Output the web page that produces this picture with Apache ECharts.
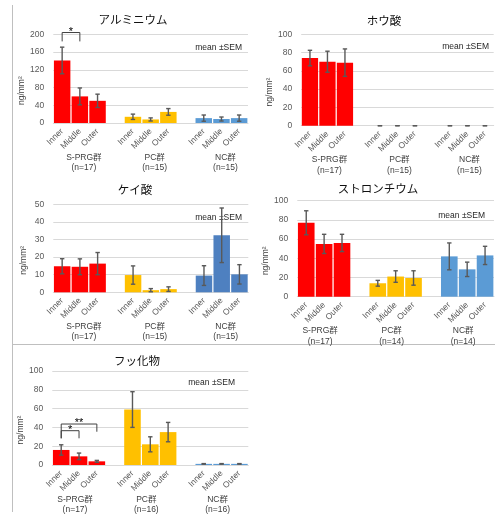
<!DOCTYPE html>
<html>
<head>
<meta charset="utf-8">
<script src="https://cdn.jsdelivr.net/npm/echarts@6/dist/echarts.min.js"></script>
<style>
  html, body { margin: 0; padding: 0; background: #ffffff; }
  #chart { width: 495px; height: 515px; }
</style>
</head>
<body>
<div id="chart"></div>
<script>
// Sub-positions within each group and the three groups
const subgroups = ['Inner', 'Middle', 'Outer'];
const groups = ['S-PRG群', 'PC群', 'NC群'];

// アルミニウム (ng/mm², mean and SEM; order: S-PRG, PC, NC × Inner, Middle, Outer)
const alMean = [141, 60, 50, 14, 8, 25, 11, 9, 11];
const alSem  = [30, 19, 15, 6, 3.5, 7.5, 7, 4.5, 7];
const alN    = [17, 15, 15];
const alAxis = [0, 200, 40];      // min, max, step

// ホウ酸
const boMean = [74, 70, 69, 0, 0, 0, 0, 0, 0];
const boSem  = [8.5, 11.5, 15, 0, 0, 0, 0, 0, 0];
const boN    = [17, 15, 15];
const boAxis = [0, 100, 20];

// ケイ酸
const siMean = [14.8, 14.5, 16.3, 9.8, 1.2, 1.8, 9.5, 32.4, 10.2];
const siSem  = [4.3, 4.5, 6.3, 5.2, 0.9, 1.3, 5.6, 15.5, 5.5];
const siN    = [17, 15, 15];
const siAxis = [0, 50, 10];

// ストロンチウム
const srMean = [77, 55, 56, 14, 21, 19.5, 42, 28.5, 43];
const srSem  = [12.5, 10, 9, 3, 6, 7.5, 14, 7.5, 9.5];
const srN    = [17, 14, 14];
const srAxis = [0, 100, 20];

// フッ化物
const fMean = [16, 9.2, 3.9, 59, 22, 35, 1.2, 1.2, 1.2];
const fSem  = [5.5, 3.5, 1, 19, 8, 10.3, 0.3, 0.3, 0.3];
const fN    = [17, 16, 16];
const fAxis = [0, 100, 20];

// Significance brackets: bar indices joined, height of the bar line, foot heights
const alBrackets = [
  { from: 0, to: 1, top: 204, foot: [184, 184], mark: '*' }
];
const fBrackets = [
  { from: 0, to: 1, top: 36.5, foot: [28.4, 28.4], mark: '*' },
  { from: 0, to: 2, top: 43.6, foot: [28.4, 35.4], mark: '**' }
];

const RED = '#FF0000', GOLD = '#FFC000', BLUE = '#5B9BD5', DBLUE = '#4E80C0';
const ERR = '#595959';
const LATIN = "'Liberation Sans', Arial, 'Noto Sans CJK JP', sans-serif";
const CJK = "'Noto Sans CJK JP', 'Liberation Sans', sans-serif";

const panels = [
  { title: 'アルミニウム', mean: alMean, sem: alSem, n: alN, axis: alAxis, colors: [RED, GOLD, BLUE], brackets: alBrackets,
    grid: { left: 53.3, top: 34.3, width: 194.7, height: 88.7 }, titleAt: [133, 20], noteAt: [242, 47.7], shift: 4 },
  { title: 'ホウ酸', mean: boMean, sem: boSem, n: boN, axis: boAxis, colors: [RED, GOLD, BLUE], brackets: [],
    grid: { left: 301.2, top: 34.3, width: 192.5, height: 91.4 }, titleAt: [384, 20.5], noteAt: [489, 47], shift: 2 },
  { title: 'ケイ酸', mean: siMean, sem: siSem, n: siN, axis: siAxis, colors: [RED, GOLD, DBLUE], brackets: [],
    grid: { left: 53.3, top: 204.3, width: 195, height: 88 }, titleAt: [135, 190], noteAt: [242, 217.7], shift: 4 },
  { title: 'ストロンチウム', mean: srMean, sem: srSem, n: srN, axis: srAxis, colors: [RED, GOLD, BLUE], brackets: [],
    grid: { left: 297.3, top: 200.7, width: 196.7, height: 96 }, titleAt: [378, 189], noteAt: [485, 216], shift: -4 },
  { title: 'フッ化物', mean: fMean, sem: fSem, n: fN, axis: fAxis, colors: [RED, GOLD, BLUE], brackets: fBrackets,
    grid: { left: 52.3, top: 371, width: 196, height: 94 }, titleAt: [137, 361], noteAt: [235, 382.3], shift: -4 }
];

// Eleven slots per axis: three bars per group with one empty slot between groups
const cats = [];
groups.forEach((g, gi) => {
  subgroups.forEach(s => cats.push(g + '|' + s));
  if (gi < groups.length - 1) cats.push('gap' + gi);
});
const slotOf = k => k + Math.floor(k / 3);

function renderErr(params, api) {
  const x = api.value(0), m = api.value(1), s = api.value(2);
  const top = api.coord([x, m + s]);
  const bot = api.coord([x, m - s]);
  const cap = 2.2;
  const st = { stroke: ERR, lineWidth: 1.4 };
  return {
    type: 'group',
    children: [
      { type: 'line', shape: { x1: top[0], y1: top[1], x2: bot[0], y2: bot[1] }, style: st },
      { type: 'line', shape: { x1: top[0] - cap, y1: top[1], x2: top[0] + cap, y2: top[1] }, style: st },
      { type: 'line', shape: { x1: bot[0] - cap, y1: bot[1], x2: bot[0] + cap, y2: bot[1] }, style: st }
    ]
  };
}

function bracketRenderer(list) {
  return function (params, api) {
    const a = api.coord([api.value(0), api.value(1)]);
    const b = api.coord([api.value(2), api.value(1)]);
    const fa = api.coord([api.value(0), api.value(3)]);
    const fb = api.coord([api.value(2), api.value(4)]);
    const st = { stroke: '#404040', lineWidth: 1 };
    return {
      type: 'group',
      children: [
        { type: 'polyline', shape: { points: [[fa[0], fa[1]], [a[0], a[1]], [b[0], b[1]], [fb[0], fb[1]]] }, style: Object.assign({ fill: null }, st) },
        { type: 'text', x: (a[0] + b[0]) / 2, y: a[1] - 1,
          style: { text: list[params.dataIndex].mark, fill: '#000', fontSize: 11, fontFamily: LATIN,
                   align: 'center', verticalAlign: 'middle', textAlign: 'center', textVerticalAlign: 'middle' } }
      ]
    };
  };
}

const option = {
  animation: false,
  grid: [], xAxis: [], yAxis: [], series: [],
  graphic: [
    { type: 'line', shape: { x1: 12.5, y1: 5, x2: 12.5, y2: 512 }, style: { stroke: '#BFBFBF', lineWidth: 1 } },
    { type: 'line', shape: { x1: 12.5, y1: 344.5, x2: 495, y2: 344.5 }, style: { stroke: '#BFBFBF', lineWidth: 1 } }
  ]
};

panels.forEach((p, i) => {
  option.grid.push(Object.assign({ containLabel: false }, p.grid));

  option.xAxis.push({
    type: 'category', gridIndex: i, data: cats, position: 'bottom',
    axisLine: { lineStyle: { color: '#D9D9D9', width: 1 } },
    axisTick: { show: false },
    axisLabel: { interval: 0, rotate: 45, margin: 7, fontSize: 8.5, color: '#595959', fontFamily: LATIN,
                 formatter: v => v.split('|')[1] || '' }
  });
  option.xAxis.push({
    type: 'category', gridIndex: i, data: cats, position: 'bottom',
    axisLine: { show: false }, axisTick: { show: false }, splitLine: { show: false },
    axisLabel: {
      interval: 0, margin: 29, fontSize: 8.5, lineHeight: 10.5, color: '#404040', fontFamily: LATIN,
      padding: p.shift >= 0 ? [0, 0, 0, 2 * p.shift] : [0, -2 * p.shift, 0, 0],
      formatter: (v, idx) => {
        const g = [1, 5, 9].indexOf(idx);
        return g < 0 ? '' : groups[g] + '\n(n=' + p.n[g] + ')';
      }
    }
  });

  option.yAxis.push({
    type: 'value', gridIndex: i, min: p.axis[0], max: p.axis[1], interval: p.axis[2],
    axisLine: { show: false }, axisTick: { show: false },
    splitLine: { lineStyle: { color: '#D9D9D9', width: 1 } },
    axisLabel: { fontSize: 8.5, color: '#595959', margin: 9, fontFamily: LATIN },
    name: 'ng/mm²', nameLocation: 'middle', nameRotate: 90, nameGap: 25,
    nameTextStyle: { fontSize: 8.5, color: '#404040', fontFamily: LATIN, padding: [0, 24, 0, 0] }
  });

  const barData = cats.map(() => '-');
  p.mean.forEach((m, k) => {
    barData[slotOf(k)] = { value: m, itemStyle: { color: p.colors[Math.floor(k / 3)] } };
  });
  option.series.push({
    type: 'bar', xAxisIndex: 2 * i, yAxisIndex: i, data: barData,
    barWidth: '93%', silent: true
  });

  option.series.push({
    type: 'custom', xAxisIndex: 2 * i, yAxisIndex: i, z: 3, silent: true,
    data: p.mean.map((m, k) => [slotOf(k), m, p.sem[k]]),
    encode: { x: 0, y: 1 },
    renderItem: renderErr
  });

  if (p.brackets.length) {
    option.series.push({
      type: 'custom', xAxisIndex: 2 * i, yAxisIndex: i, z: 4, clip: false, silent: true,
      data: p.brackets.map(b => [slotOf(b.from), b.top, slotOf(b.to), b.foot[0], b.foot[1]]),
      encode: { x: 0, y: 1 },
      renderItem: bracketRenderer(p.brackets)
    });
  }

  option.graphic.push({
    type: 'text', x: p.titleAt[0], y: p.titleAt[1],
    style: { text: p.title, fill: '#111', fontSize: 11.5, fontFamily: CJK, align: 'center', verticalAlign: 'middle' }
  });
  option.graphic.push({
    type: 'text', x: p.noteAt[0], y: p.noteAt[1],
    style: { text: 'mean ±SEM', fill: '#262626', fontSize: 8.5, fontFamily: LATIN, align: 'right', verticalAlign: 'middle' }
  });
});

const chart = echarts.init(document.getElementById('chart'), null, { renderer: 'canvas' });
chart.setOption(option);
</script>
</body>
</html>
